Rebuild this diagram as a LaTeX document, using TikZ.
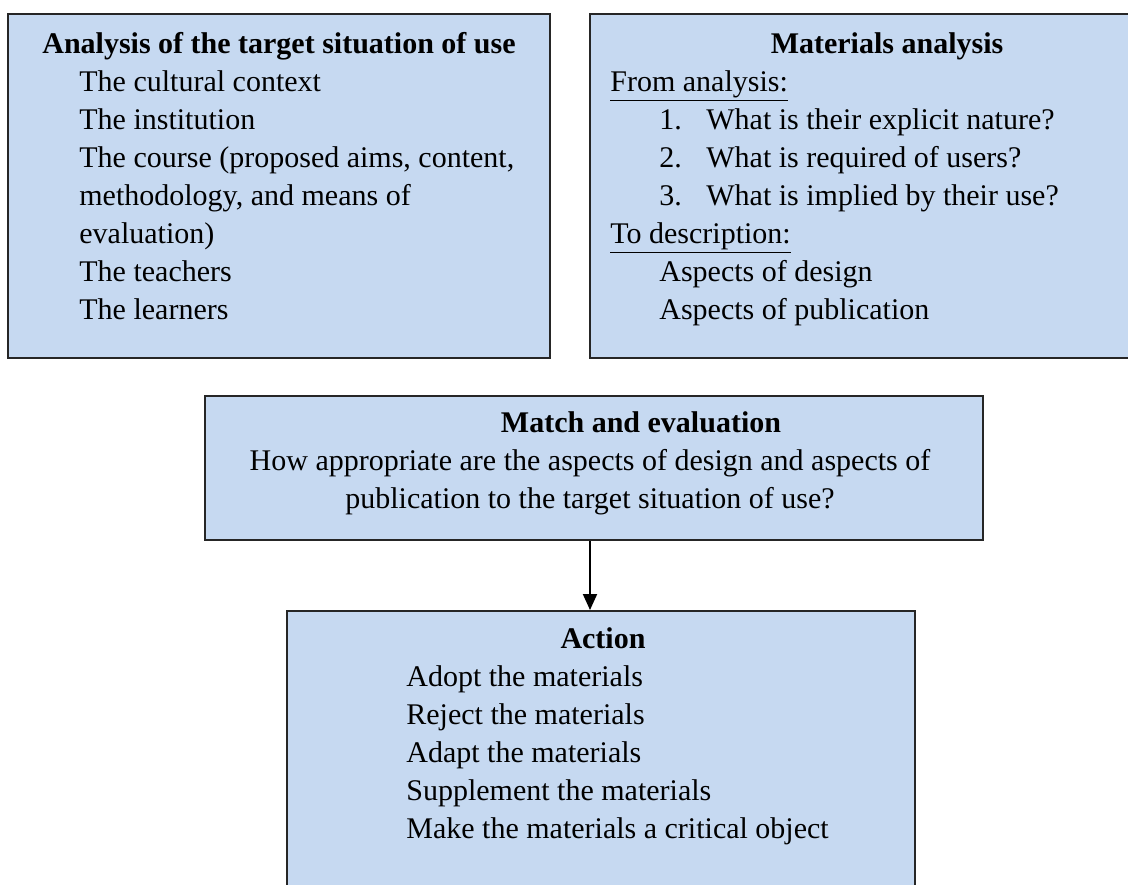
\documentclass[tikz,border=0pt]{standalone}
\usepackage{fontspec}
\setmainfont{Liberation Serif}
\usetikzlibrary{arrows.meta}
\definecolor{panelblue}{RGB}{198,217,241}
\newcommand{\panelfont}{\fontsize{15pt}{19pt}\selectfont}
\tikzset{
  panel/.style={draw=black!85, line width=1pt, fill=panelblue, inner sep=0pt},
  headtxt/.style={anchor=base, inner sep=0pt, font=\panelfont\bfseries},
  centretxt/.style={anchor=base, inner sep=0pt, font=\panelfont},
  itemtxt/.style={anchor=base west, inner sep=0pt, font=\panelfont},
}

\begin{document}
\begin{tikzpicture}[x=0.5pt, y=-0.5pt]
  \useasboundingbox (0,0) rectangle (1128,884);
  % boxes
  \node[panel, minimum width=271pt, minimum height=172pt] (target) at (279,186) {};
  \node[panel, minimum width=297pt, minimum height=172pt] (materials) at (887,186) {};
  \node[panel, minimum width=389pt, minimum height=72pt] (match) at (594,468) {};
  \node[panel, minimum width=314pt, minimum height=145pt] (action) at (601,756) {};

  % analysis of the target situation
  \node[headtxt] (target-head) at (279,53) {Analysis of the target situation of use};
  \foreach \txt [count=\i] in {The cultural context, The institution,
      {The course (proposed aims, content,}, {methodology, and means of},
      evaluation), The teachers, The learners}
    \node[itemtxt] (target-\i) at (79,{53+38*\i}) {\txt};

  % materials analysis
  \node[headtxt] (materials-head) at (887,53) {Materials analysis};
  \node[itemtxt] (materials-from) at (610,91) {\underline{From analysis:}};
  \foreach \q [count=\i] in {What is their explicit nature?, What is required of users?,
      What is implied by their use?} {
    \node[itemtxt] (materials-num-\i) at (659,{91+38*\i}) {\i.};
    \node[itemtxt] (materials-q-\i) at (706,{91+38*\i}) {\q};
  }
  \node[itemtxt] (materials-to) at (610,243) {\underline{To description:}};
  \node[itemtxt] (materials-design) at (659,281) {Aspects of design};
  \node[itemtxt] (materials-pub) at (659,319) {Aspects of publication};

  % match and evaluation
  \node[headtxt] (match-head) at (641,432) {Match and evaluation};
  \node[centretxt] (match-1) at (590,470) {How appropriate are the aspects of design and aspects of};
  \node[centretxt] (match-2) at (590,508) {publication to the target situation of use?};

  % action
  \node[headtxt] (action-head) at (603,648) {Action};
  \foreach \txt [count=\i] in {Adopt the materials, Reject the materials, Adapt the materials,
      Supplement the materials, Make the materials a critical object}
    \node[itemtxt] (action-\i) at (406,{648+38*\i}) {\txt};

  \coordinate (drop) at (590,0);
  \draw[-{Triangle[length=8pt,width=7pt]}, line width=1pt] (match.south -| drop) -- (action.north -| drop);
\end{tikzpicture}
\end{document}
